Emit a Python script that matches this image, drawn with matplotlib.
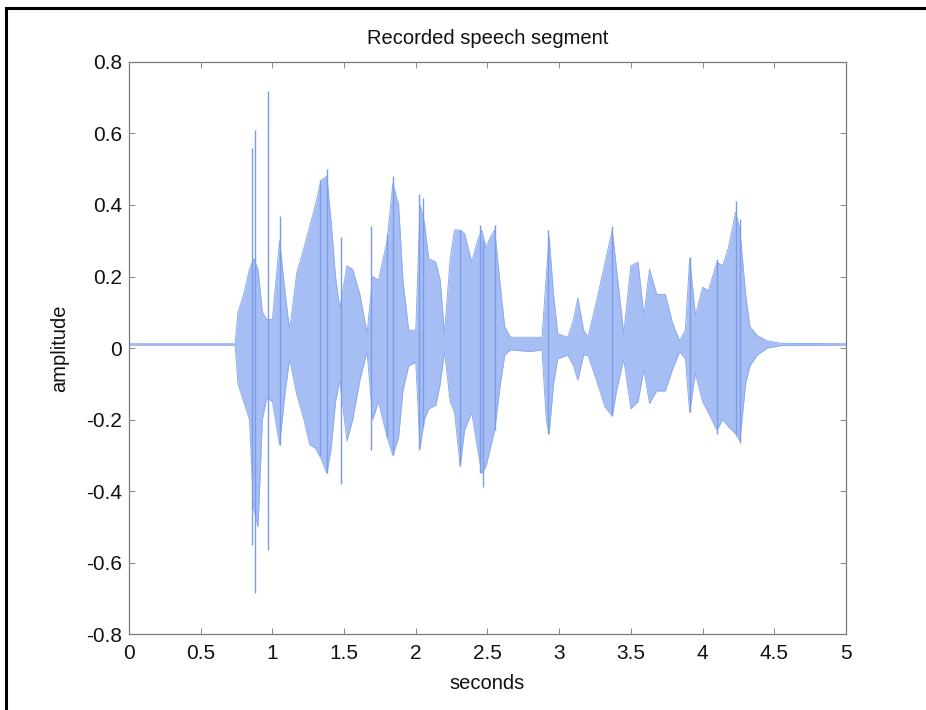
import matplotlib
matplotlib.use('Agg')
import matplotlib.pyplot as plt
from matplotlib.lines import Line2D

plt.rcParams['font.family'] = ['Liberation Sans', 'DejaVu Sans']

# 파형 외곽선 (시간[s], 위쪽 진폭, 아래쪽 진폭) - 그림에서 읽은 값
env_t = [0.00, 0.74, 0.76, 0.80, 0.84, 0.87, 0.90, 0.93, 0.96, 1.00,
         1.05, 1.09, 1.12, 1.17, 1.22, 1.26, 1.30, 1.34, 1.38, 1.41,
         1.44, 1.47, 1.52, 1.56, 1.61, 1.66, 1.70, 1.74, 1.80, 1.84,
         1.88, 1.91, 1.95, 2.00, 2.03, 2.06, 2.09, 2.14, 2.17, 2.20,
         2.24, 2.27, 2.31, 2.34, 2.39, 2.43, 2.46, 2.49, 2.52, 2.55,
         2.59, 2.62, 2.66, 2.80, 2.88, 2.91, 2.93, 2.96, 2.99, 3.06,
         3.10, 3.13, 3.17, 3.20, 3.26, 3.32, 3.37, 3.40, 3.45, 3.50,
         3.55, 3.59, 3.63, 3.68, 3.74, 3.79, 3.84, 3.88, 3.91, 3.95,
         4.00, 4.04, 4.10, 4.14, 4.18, 4.23, 4.26, 4.30, 4.33, 4.38,
         4.45, 4.55, 5.00]
env_hi = [0.012, 0.012, 0.10, 0.15, 0.22, 0.25, 0.22, 0.10, 0.08, 0.08,
          0.30, 0.15, 0.05, 0.21, 0.28, 0.34, 0.40, 0.47, 0.48, 0.35,
          0.20, 0.11, 0.23, 0.22, 0.15, 0.04, 0.20, 0.19, 0.30, 0.46,
          0.40, 0.19, 0.05, 0.05, 0.40, 0.35, 0.25, 0.24, 0.19, 0.04,
          0.25, 0.33, 0.33, 0.32, 0.24, 0.30, 0.33, 0.28, 0.31, 0.33,
          0.17, 0.06, 0.03, 0.03, 0.03, 0.20, 0.31, 0.15, 0.04, 0.03,
          0.08, 0.14, 0.05, 0.03, 0.13, 0.24, 0.33, 0.22, 0.04, 0.23,
          0.24, 0.09, 0.22, 0.15, 0.15, 0.07, 0.02, 0.05, 0.25, 0.09,
          0.17, 0.16, 0.24, 0.23, 0.28, 0.38, 0.33, 0.15, 0.06, 0.035,
          0.02, 0.013, 0.012]
env_lo = [0.008, 0.008, -0.10, -0.15, -0.20, -0.45, -0.50, -0.20, -0.14, -0.15,
          -0.27, -0.12, -0.03, -0.13, -0.20, -0.27, -0.28, -0.31, -0.35, -0.28,
          -0.15, -0.09, -0.26, -0.20, -0.09, -0.01, -0.20, -0.15, -0.25, -0.30,
          -0.25, -0.12, -0.05, -0.04, -0.28, -0.20, -0.17, -0.16, -0.10, -0.01,
          -0.15, -0.18, -0.33, -0.23, -0.18, -0.28, -0.35, -0.33, -0.28, -0.23,
          -0.10, -0.02, -0.005, -0.01, -0.005, -0.20, -0.24, -0.10, -0.03, -0.02,
          -0.05, -0.09, -0.02, -0.02, -0.09, -0.165, -0.19, -0.12, -0.03, -0.17,
          -0.15, -0.06, -0.155, -0.12, -0.12, -0.06, -0.01, -0.03, -0.18, -0.07,
          -0.15, -0.18, -0.23, -0.20, -0.22, -0.24, -0.26, -0.10, -0.05, -0.02,
          0.0, 0.007, 0.008]

# 튀는 값 (스파이크)
spike_t = [0.86, 0.88, 0.97, 1.05, 1.33, 1.38, 1.48, 1.69, 1.80, 1.84,
           2.02, 2.05, 2.31, 2.45, 2.47, 2.55, 2.92, 3.37, 3.91, 4.10,
           4.23, 4.26]
spike_hi = [0.56, 0.61, 0.72, 0.37, 0.47, 0.50, 0.31, 0.34, 0.32, 0.48,
            0.43, 0.42, 0.33, 0.345, 0.30, 0.345, 0.33, 0.34, 0.255, 0.25,
            0.41, 0.36]
spike_lo = [-0.55, -0.685, -0.565, -0.27, -0.30, -0.35, -0.38, -0.285, -0.25, -0.30,
            -0.285, -0.22, -0.33, -0.35, -0.39, -0.23, -0.24, -0.19, -0.18, -0.24,
            -0.24, -0.265]

x_ticks = [0, 0.5, 1, 1.5, 2, 2.5, 3, 3.5, 4, 4.5, 5]
y_ticks = [-0.8, -0.6, -0.4, -0.2, 0, 0.2, 0.4, 0.6, 0.8]

fig = plt.figure(figsize=(9.26, 7.10), dpi=100)
ax = fig.add_axes([0.1393, 0.1070, 0.7743, 0.8057])

ax.fill_between(env_t, env_lo, env_hi, color='#a6bef3', linewidth=0)
ax.plot(env_t, env_hi, color='#8eabef', linewidth=0.7)
ax.plot(env_t, env_lo, color='#8eabef', linewidth=0.7)
ax.vlines(spike_t, spike_lo, spike_hi, color='#7c9be9', linewidth=1.0)

ax.set_xlim(0, 5)
ax.set_ylim(-0.8, 0.8)
ax.set_xticks(x_ticks)
ax.set_xticklabels(['0', '0.5', '1', '1.5', '2', '2.5', '3', '3.5', '4', '4.5', '5'])
ax.set_yticks(y_ticks)
ax.set_yticklabels(['-0.8', '-0.6', '-0.4', '-0.2', '0', '0.2', '0.4', '0.6', '0.8'])
ax.tick_params(direction='in', length=4, width=0.6, color='#777777',
               top=True, right=True, labelsize=15, labelcolor='#111111')
ax.tick_params(axis='x', pad=7)
ax.tick_params(axis='y', pad=5)
for s in ax.spines.values():
    s.set_color('#7a7a86')
    s.set_linewidth(0.9)

ax.set_title('Recorded speech segment', fontsize=14.5, pad=13, color='#111111')
ax.set_xlabel('seconds', fontsize=14.5, labelpad=8, color='#111111')
ax.set_ylabel('amplitude', fontsize=14.5, labelpad=12, color='#111111')

# 바깥 테두리
fig.add_artist(Line2D([6 / 926, 6 / 926], [0, 1 - 8 / 710], transform=fig.transFigure,
                      color='black', linewidth=2.2))
fig.add_artist(Line2D([6 / 926, 1], [1 - 8 / 710, 1 - 8 / 710], transform=fig.transFigure,
                      color='black', linewidth=2.2))

fig.savefig('out.png', dpi=100)
